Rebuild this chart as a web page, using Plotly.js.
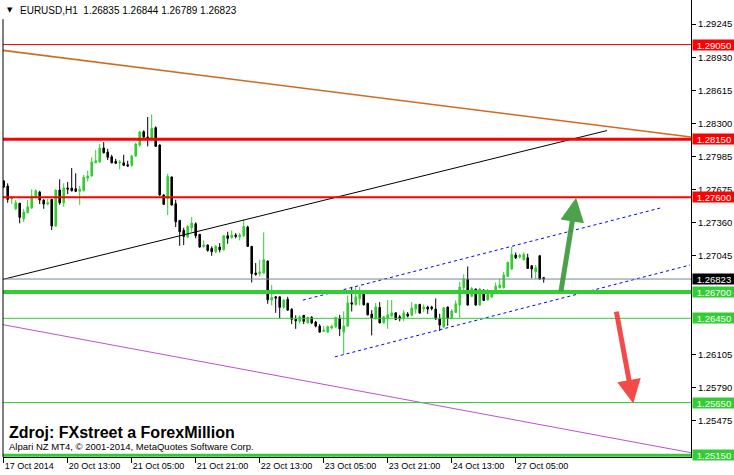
<!DOCTYPE html>
<html>
<head>
<meta charset="utf-8">
<script src="https://cdn.plot.ly/plotly-3.0.1.min.js"></script>
<style>html,body{margin:0;padding:0;background:#fff;}#chart{width:734px;height:475px;}</style>
</head>
<body>
<div id="chart"></div>
<script>
// ---- data ----
const symbol = "EURUSD";
const timeframe = "H1";
const sessionDays = ["17 Oct", "20 Oct", "21 Oct", "22 Oct", "23 Oct", "24 Oct", "27 Oct"];
const sessionFirstHour = [21, 0, 0, 0, 0, 0, 0];
const sessionLastHour = [23, 23, 23, 23, 23, 23, 12];

const opens = [
1.27754,1.27706,1.27583,1.27490,1.27542,1.27395,1.27452,1.27497,1.27604,1.27649,
1.27573,1.27535,1.27580,1.27326,1.27668,1.27547,1.27687,1.27687,1.27680,1.27656,
1.27661,1.27782,1.27802,1.27927,1.27934,1.28067,1.28029,1.27984,1.27941,1.27927,
1.27927,1.27908,1.27903,1.27991,1.28096,1.28222,1.28172,1.28146,1.28260,1.28096,
1.27621,1.27589,1.27792,1.27538,1.27380,1.27285,1.27222,1.27310,1.27348,1.27247,
1.27133,1.27146,1.27114,1.27082,1.27127,1.27101,1.27234,1.27215,1.27241,1.27222,
1.27234,1.27317,1.27133,1.26880,1.26873,1.26880,1.26994,1.26623,1.26654,1.26654,
1.26554,1.26630,1.26535,1.26440,1.26421,1.26478,1.26407,1.26459,1.26414,1.26376,
1.26326,1.26319,1.26357,1.26369,1.26452,1.26319,1.26376,1.26597,1.26578,1.26635,
1.26706,1.26592,1.26490,1.26445,1.26554,1.26407,1.26452,1.26471,1.26502,1.26464,
1.26452,1.26490,1.26478,1.26538,1.26582,1.26538,1.26557,1.26557,1.26538,1.26449,
1.26367,1.26557,1.26449,1.26506,1.26576,1.26740,1.26823,1.26658,1.26728,1.26576,
1.26715,1.26626,1.26652,1.26709,1.26740,1.26740,1.26848,1.26918,1.27051,1.27032,
1.27006,1.27025,1.26949,1.26892,1.27044,1.26835];
const highs = [
1.27763,1.27732,1.27611,1.27573,1.27547,1.27490,1.27573,1.27675,1.27675,1.27661,
1.27580,1.27585,1.27582,1.27675,1.27770,1.27732,1.27744,1.27877,1.27827,1.27706,
1.27813,1.27851,1.27979,1.28048,1.28105,1.28124,1.28060,1.28003,1.27965,1.27953,
1.28003,1.27946,1.28003,1.28117,1.28231,1.28235,1.28362,1.28387,1.28273,1.28102,
1.27627,1.27823,1.27798,1.27576,1.27384,1.27310,1.27336,1.27412,1.27361,1.27252,
1.27190,1.27152,1.27133,1.27146,1.27165,1.27241,1.27272,1.27285,1.27260,1.27260,
1.27386,1.27329,1.27138,1.26975,1.27006,1.27266,1.27000,1.26766,1.26661,1.26658,
1.26635,1.26654,1.26547,1.26478,1.26478,1.26483,1.26464,1.26471,1.26426,1.26395,
1.26376,1.26383,1.26388,1.26464,1.26483,1.26516,1.26668,1.26749,1.26749,1.26749,
1.26711,1.26597,1.26528,1.26597,1.26604,1.26471,1.26623,1.26623,1.26506,1.26483,
1.26528,1.26509,1.26604,1.26588,1.26588,1.26582,1.26569,1.26569,1.26639,1.26493,
1.26557,1.26562,1.26538,1.26620,1.26797,1.26867,1.26943,1.26747,1.26732,1.26740,
1.26728,1.26728,1.26715,1.26791,1.26829,1.26892,1.26987,1.27127,1.27076,1.27063,
1.27076,1.27063,1.26956,1.26956,1.27051,1.26844];
const lows = [
1.27687,1.27547,1.27535,1.27478,1.27352,1.27364,1.27447,1.27490,1.27589,1.27535,
1.27490,1.27523,1.27288,1.27320,1.27528,1.27509,1.27630,1.27656,1.27649,1.27528,
1.27656,1.27751,1.27795,1.27922,1.27927,1.28017,1.27953,1.27922,1.27915,1.27865,
1.27896,1.27889,1.27889,1.27984,1.28079,1.28159,1.28083,1.28140,1.28078,1.27614,
1.27526,1.27431,1.27520,1.27317,1.27139,1.27146,1.27215,1.27272,1.27209,1.27120,
1.27120,1.27082,1.27044,1.27070,1.27076,1.27095,1.27158,1.27209,1.27209,1.27190,
1.27222,1.27127,1.26791,1.26854,1.26848,1.26873,1.26588,1.26573,1.26502,1.26452,
1.26540,1.26521,1.26395,1.26350,1.26402,1.26395,1.26402,1.26395,1.26364,1.26312,
1.26319,1.26312,1.26345,1.26357,1.26281,1.26110,1.26369,1.26516,1.26573,1.26573,
1.26573,1.26478,1.26288,1.26440,1.26402,1.26402,1.26350,1.26464,1.26433,1.26421,
1.26421,1.26459,1.26471,1.26493,1.26493,1.26506,1.26493,1.26525,1.26436,1.26329,
1.26360,1.26379,1.26443,1.26500,1.26455,1.26702,1.26570,1.26652,1.26570,1.26570,
1.26614,1.26620,1.26645,1.26702,1.26734,1.26734,1.26842,1.26911,1.27013,1.27019,
1.27000,1.26918,1.26829,1.26823,1.26816,1.26789];
const closes = [
1.27697,1.27580,1.27602,1.27547,1.27409,1.27459,1.27509,1.27611,1.27661,1.27573,
1.27535,1.27547,1.27326,1.27668,1.27547,1.27687,1.27678,1.27661,1.27656,1.27675,
1.27789,1.27802,1.27934,1.27946,1.28067,1.28022,1.27979,1.27927,1.27922,1.27934,
1.27903,1.27896,1.27991,1.28105,1.28219,1.28172,1.28153,1.28254,1.28083,1.27621,
1.27532,1.27798,1.27526,1.27367,1.27272,1.27228,1.27323,1.27355,1.27234,1.27127,
1.27146,1.27095,1.27082,1.27133,1.27101,1.27234,1.27209,1.27241,1.27228,1.27241,
1.27323,1.27133,1.26873,1.26867,1.26892,1.27006,1.26626,1.26649,1.26642,1.26554,
1.26623,1.26528,1.26440,1.26426,1.26464,1.26421,1.26459,1.26407,1.26376,1.26319,
1.26338,1.26369,1.26376,1.26459,1.26350,1.26376,1.26597,1.26585,1.26654,1.26706,
1.26578,1.26483,1.26452,1.26559,1.26407,1.26464,1.26483,1.26502,1.26440,1.26445,
1.26502,1.26471,1.26547,1.26582,1.26500,1.26557,1.26538,1.26544,1.26443,1.26386,
1.26550,1.26449,1.26519,1.26588,1.26747,1.26823,1.26576,1.26734,1.26576,1.26728,
1.26620,1.26677,1.26683,1.26753,1.26766,1.26861,1.26981,1.27057,1.27025,1.27051,
1.27057,1.26924,1.26918,1.26930,1.26823,1.26823];

const tickCategories = ["17 Oct 21:00","20 Oct 13:00","21 Oct 05:00","21 Oct 21:00","22 Oct 13:00","23 Oct 05:00","23 Oct 21:00","24 Oct 13:00","27 Oct 05:00"];
const tickLabels = ["17 Oct 2014","20 Oct 13:00","21 Oct 05:00","21 Oct 21:00","22 Oct 13:00","23 Oct 05:00","23 Oct 21:00","24 Oct 13:00","27 Oct 05:00"];
const priceTicks = [1.29245,1.28930,1.28615,1.28300,1.27985,1.27675,1.27360,1.27045,1.26105,1.25790,1.25475];

// horizontal levels
const levelPrices = [1.29050, 1.28150, 1.27600, 1.26700, 1.26450, 1.25650, 1.25150];
const levelKinds  = ["red", "red", "red", "green", "green", "green", "green"];
const levelWidths = [1, 3, 2, 4, 1, 1, 3];

// trend lines: [bar index, price] endpoints
const orangeX = [-0.93, 171.8], orangeY = [1.28998, 1.28172];
const blackX  = [-0.93, 150.8], blackY  = [1.26813, 1.28233];
const purpleX = [-0.93, 171.8], purpleY = [1.26395, 1.25174];
const chanUpX = [74.8, 164.1],  chanUpY = [1.26623, 1.27497];
const chanLoX = [82.8, 171.6],  chanLoY = [1.26084, 1.26956];
// arrows: tail -> head
const upArrowX = [139.25, 143.1], upArrowY = [1.26692, 1.27594];
const dnArrowX = [153.1, 157.4],  dnArrowY = [1.26528, 1.25642];

// ---- build ----
const times = [];
for (let s = 0; s < sessionDays.length; s++) {
  for (let h = sessionFirstHour[s]; h <= sessionLastHour[s]; h++) {
    times.push(sessionDays[s] + " " + (h < 10 ? "0" : "") + h + ":00");
  }
}

const RED = "#FF0000", GREEN = "#32CD32";
const FONT = "Liberation Sans, Arial, sans-serif";

const trace = {
  type: "candlestick",
  x: times, open: opens, high: highs, low: lows, close: closes,
  increasing: {line: {color: GREEN, width: 1}, fillcolor: GREEN},
  decreasing: {line: {color: "#000000", width: 1}, fillcolor: "#000000"},
  whiskerwidth: 0,
  hoverinfo: "skip",
  showlegend: false
};

const shapes = [];
const annotations = [];
function seg(xs, ys, color, width, dash) {
  shapes.push({type: "line", xref: "x", yref: "y", x0: xs[0], x1: xs[1], y0: ys[0], y1: ys[1],
    line: {color: color, width: width, dash: dash || "solid"}});
}
seg(orangeX, orangeY, "#D2691E", 1.6);
seg(blackX, blackY, "#000000", 1);
seg(purpleX, purpleY, "#C050D0", 1);
seg(chanUpX, chanUpY, "#0000FF", 1, "3px,3px");
seg(chanLoX, chanLoY, "#0000FF", 1, "3px,3px");

const lastClose = closes[closes.length - 1];
shapes.push({type: "line", xref: "paper", yref: "y", x0: 0, x1: 1, y0: lastClose, y1: lastClose,
  line: {color: "#778899", width: 1}});
levelPrices.forEach((p, i) => {
  const c = levelKinds[i] === "red" ? RED : GREEN;
  shapes.push({type: "line", xref: "paper", yref: "y", x0: 0, x1: 1, y0: p, y1: p,
    line: {color: c, width: levelWidths[i]}});
  annotations.push({xref: "paper", yref: "y", x: 1, y: p, xanchor: "left", yanchor: "middle", xshift: 1,
    text: p.toFixed(5), showarrow: false, bgcolor: c, borderpad: 0, width: 42, height: 10, align: "center",
    font: {family: FONT, size: 9.5, color: "#ffffff"}});
});
annotations.push({xref: "paper", yref: "y", x: 1, y: lastClose, xanchor: "left", yanchor: "middle", xshift: 1,
  text: lastClose.toFixed(5), showarrow: false, bgcolor: "#000000", borderpad: 0, width: 42, height: 10, align: "center",
  font: {family: FONT, size: 9.5, color: "#ffffff"}});

// left border
shapes.push({type: "line", xref: "paper", yref: "paper", x0: 0, x1: 0, y0: 0, y1: 0.958,
  line: {color: "#000", width: 1}});

// arrows
annotations.push({xref: "x", yref: "y", axref: "x", ayref: "y", x: upArrowX[1], y: upArrowY[1],
  ax: upArrowX[0], ay: upArrowY[0], text: "", showarrow: true, arrowhead: 2, arrowsize: 0.95,
  arrowwidth: 5, arrowcolor: "rgba(60,155,60,0.92)", standoff: 0, startstandoff: 0});
annotations.push({xref: "x", yref: "y", axref: "x", ayref: "y", x: dnArrowX[1], y: dnArrowY[1],
  ax: dnArrowX[0], ay: dnArrowY[0], text: "", showarrow: true, arrowhead: 2, arrowsize: 0.95,
  arrowwidth: 5, arrowcolor: "rgba(245,65,65,0.95)", standoff: 0, startstandoff: 0});

// texts
const n = opens.length - 1;
annotations.push({xref: "paper", yref: "paper", x: 0.0029, y: 0.978, xanchor: "left", yanchor: "middle",
  text: "▼", showarrow: false, font: {family: "DejaVu Sans", size: 7, color: "#000"}});
annotations.push({xref: "paper", yref: "paper", x: 0.0218, y: 0.978, xanchor: "left", yanchor: "middle",
  text: symbol + "," + timeframe + "  " + opens[n].toFixed(5) + " " + highs[n].toFixed(5) + " " + lows[n].toFixed(5) + " " + closes[n].toFixed(5),
  showarrow: false, font: {family: FONT, size: 10, color: "#000"}});
annotations.push({xref: "paper", yref: "paper", x: 0.0058, y: 0.0535, xanchor: "left", yanchor: "middle",
  text: "<b>Zdroj: FXstreet a ForexMillion</b>", showarrow: false, font: {family: FONT, size: 16, color: "#000"}});
annotations.push({xref: "paper", yref: "paper", x: 0.0058, y: 0.022, xanchor: "left", yanchor: "middle",
  text: "Alpari NZ MT4, © 2001-2014, MetaQuotes Software Corp.", showarrow: false,
  font: {family: FONT, size: 9.5, color: "#000"}});

const layout = {
  width: 734, height: 475,
  margin: {l: 3, r: 43, t: 0, b: 18},
  paper_bgcolor: "#ffffff", plot_bgcolor: "#ffffff",
  font: {family: FONT, color: "#000"},
  showlegend: false,
  boxgap: 0.45,
  xaxis: {
    type: "category", range: [-0.175, 171.825], showgrid: false, zeroline: false,
    showline: true, linecolor: "#000", linewidth: 1,
    ticks: "outside", ticklen: 5, tickcolor: "#000", tickwidth: 1,
    tickvals: tickCategories, ticktext: tickLabels, ticklabelposition: "outside right",
    tickfont: {family: FONT, size: 9, color: "#000"},
    rangeslider: {visible: false}, fixedrange: true
  },
  yaxis: {
    side: "right", range: [1.25133, 1.29473], showgrid: false, zeroline: false,
    showline: true, linecolor: "#000", linewidth: 1,
    ticks: "outside", ticklen: 4, tickcolor: "#000", tickwidth: 1,
    tickvals: priceTicks, tickformat: ".5f",
    tickfont: {family: FONT, size: 9.5, color: "#000"}, fixedrange: true
  },
  shapes: shapes,
  annotations: annotations
};

Plotly.newPlot("chart", [trace], layout, {displayModeBar: false, staticPlot: true});
</script>
</body>
</html>
